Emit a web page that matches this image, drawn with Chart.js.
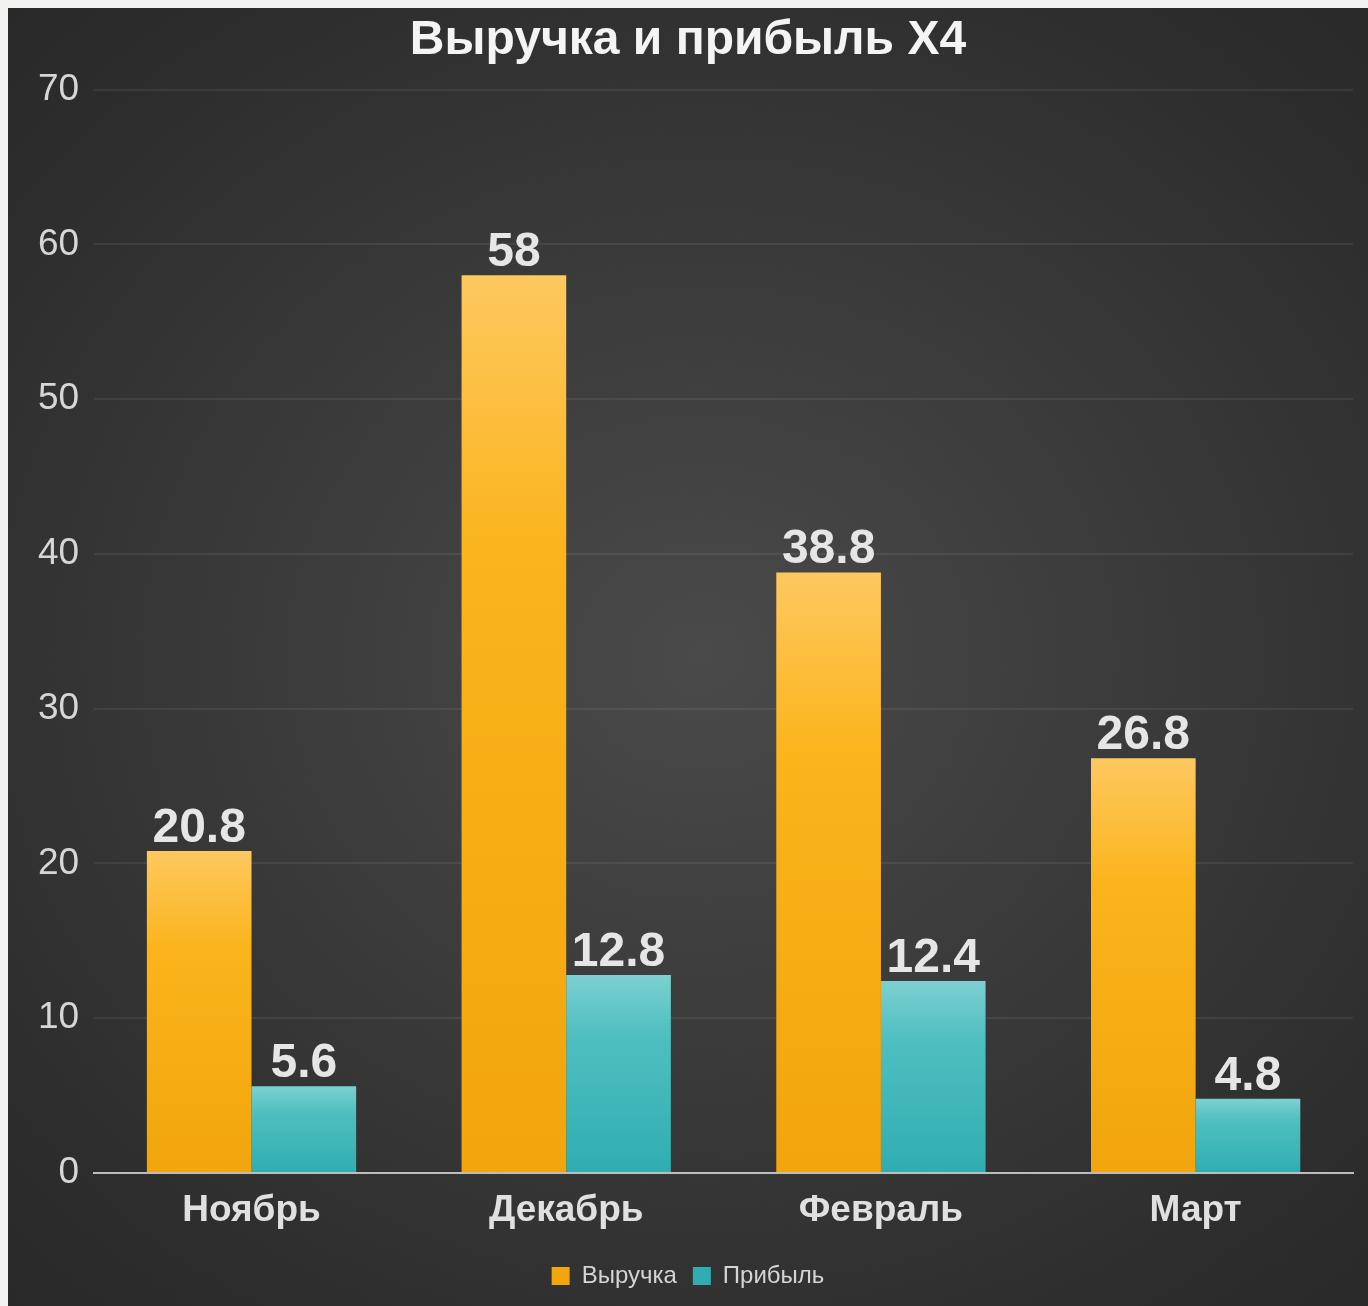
<!DOCTYPE html>
<html>
<head>
<meta charset="utf-8">
<script src="https://cdn.jsdelivr.net/npm/chart.js@4"></script>
<style>
  html, body { margin: 0; padding: 0; background: #f2f2f0; }
  .stats-chart-wrapper {
    position: absolute;
    left: 8px; top: 8px;
    width: 1360px; height: 1298px;
    background: radial-gradient(ellipse 75% 70% at 51% 50%, #4a4a4a 0%, #3a3a3a 45%, #2c2c2c 85%, #292929 100%);
  }
  .chart-canvas { display: block; }
</style>
</head>
<body>
<div class="stats-chart-wrapper">
  <canvas id="chart" class="chart-canvas"></canvas>
</div>
<script>
const months = ['Ноябрь', 'Декабрь', 'Февраль', 'Март'];
const revenue = [20.8, 58, 38.8, 26.8];
const profit = [5.6, 12.8, 12.4, 4.8];
const seriesNames = ['Выручка', 'Прибыль'];
const yTicks = [0, 10, 20, 30, 40, 50, 60, 70];

const FONT = '"Liberation Sans", Arial, sans-serif';

// each bar gets its own vertical gradient, light at the top
function barGradient(light, mid, dark) {
  return (context) => {
    const chart = context.chart;
    const area = chart.chartArea;
    if (!area || context.raw == null) return mid;
    const yScale = chart.scales.y;
    const top = yScale.getPixelForValue(context.raw);
    const bottom = yScale.getPixelForValue(0);
    if (!(bottom > top)) return mid;
    const g = chart.ctx.createLinearGradient(0, top, 0, bottom);
    g.addColorStop(0, light);
    g.addColorStop(0.3, mid);
    g.addColorStop(1, dark);
    return g;
  };
}

const valueLabels = {
  id: 'valueLabels',
  afterDatasetsDraw(chart) {
    const ctx = chart.ctx;
    ctx.save();
    ctx.font = 'bold 48px ' + FONT;
    ctx.fillStyle = '#e6e6e6';
    ctx.textAlign = 'center';
    ctx.textBaseline = 'alphabetic';
    chart.data.datasets.forEach((ds, i) => {
      chart.getDatasetMeta(i).data.forEach((bar, j) => {
        ctx.fillText(String(ds.data[j]), bar.x, bar.y - 9);
      });
    });
    ctx.restore();
  }
};

const canvas = document.getElementById('chart');
canvas.width = 1360;
canvas.height = 1298;

new Chart(canvas.getContext('2d'), {
  type: 'bar',
  data: {
    labels: months,
    datasets: [
      {
        label: seriesNames[0],
        data: revenue,
        backgroundColor: barGradient('#fdc85f', '#fbb41c', '#f2a50c')
      },
      {
        label: seriesNames[1],
        data: profit,
        backgroundColor: barGradient('#7dd0d1', '#4fbfc1', '#30adb1')
      }
    ]
  },
  options: {
    responsive: false,
    animation: false,
    devicePixelRatio: 1,
    categoryPercentage: 0.665,
    barPercentage: 1.0,
    layout: {
      padding: { left: 15, right: 15, top: 0, bottom: 8 }
    },
    scales: {
      x: {
        grid: { display: false, drawTicks: false },
        border: { display: true, color: '#bdbdbd', width: 2 },
        ticks: {
          color: '#e0e0e0',
          padding: 19,
          font: { family: FONT, size: 37, weight: 'bold', lineHeight: 1.0 }
        }
      },
      y: {
        min: 0,
        max: 70,
        afterBuildTicks: (axis) => {
          axis.ticks = yTicks.map(v => ({ value: v }));
        },
        grid: {
          color: 'rgba(255,255,255,0.065)',
          lineWidth: 2,
          drawTicks: false
        },
        border: { display: false },
        ticks: {
          color: '#d6d6d6',
          padding: 15,
          font: { family: FONT, size: 37 }
        }
      }
    },
    plugins: {
      title: {
        display: true,
        text: 'Выручка и прибыль Х4',
        color: '#f4f4f4',
        padding: { top: 4, bottom: 20 },
        font: { family: FONT, size: 48, weight: 'bold' }
      },
      legend: {
        position: 'bottom',
        labels: {
          color: '#d4d4d4',
          boxWidth: 18,
          boxHeight: 18,
          padding: 16,
          font: { family: FONT, size: 24 }
        }
      },
      tooltip: { enabled: false }
    }
  },
  plugins: [valueLabels]
});
</script>
</body>
</html>
